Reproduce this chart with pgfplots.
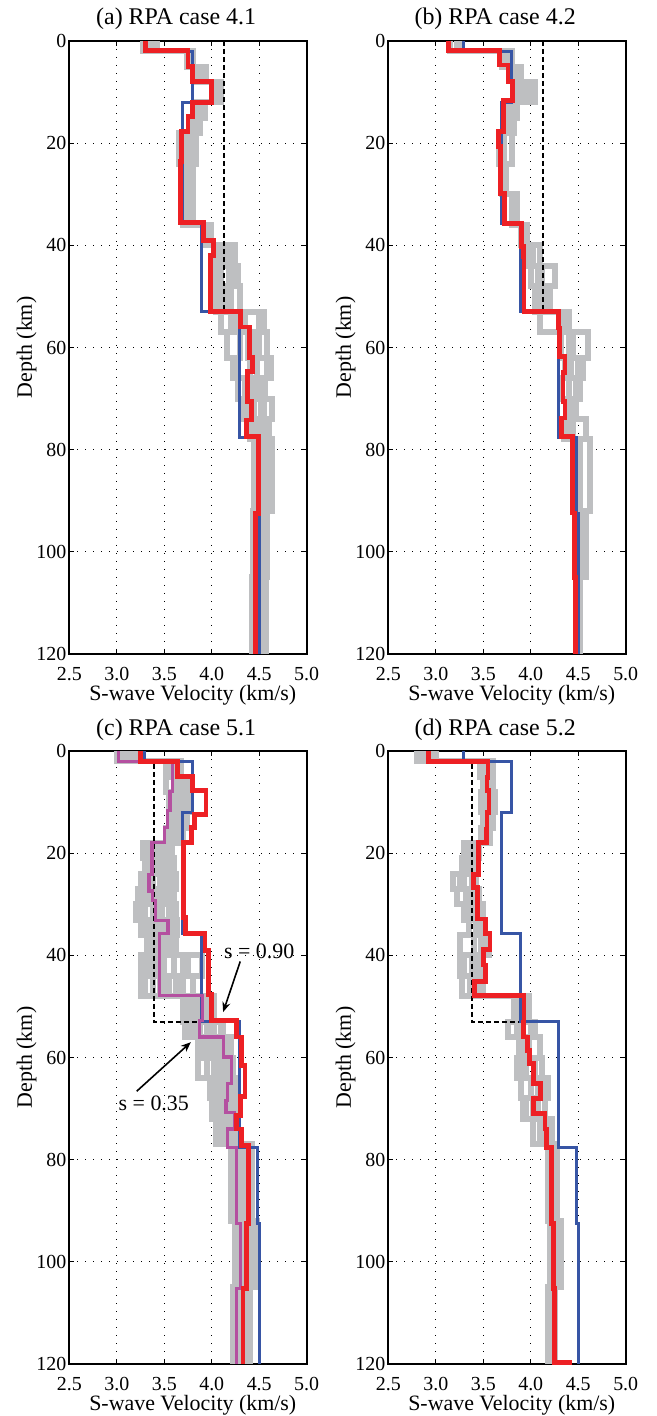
\documentclass[border=0pt]{standalone}
\usepackage{pgfplots}
\pgfplotsset{compat=1.18}
\usetikzlibrary{arrows.meta}
\usepackage{fontspec}
\setmainfont{Liberation Serif}
\definecolor{gline}{RGB}{190,191,193}
\definecolor{bline}{RGB}{55,85,165}
\definecolor{rline}{RGB}{237,32,36}
\definecolor{pline}{RGB}{180,80,160}
\pgfplotsset{
  rpa/.style={
    scale only axis, width=118.7bp, height=306.5bp, anchor=south west,
    xmin=2.5, xmax=5.0, ymin=0, ymax=120, y dir=reverse,
    xtick={2.5,3.0,3.5,4.0,4.5,5.0}, ytick={0,20,40,60,80,100,120},
    /pgf/number format/assume math mode=true,
    tick label style={font=\fontsize{10}{12}\selectfont},
    xticklabel style={yshift=-3bp, /pgf/number format/.cd, fixed, fixed zerofill, precision=1},
    yticklabel style={xshift=2bp},
    label style={font=\fontsize{11}{13}\selectfont},
    every axis title shift=0pt,
    title style={font=\fontsize{12}{14}\selectfont, at={(0.45,1)}, anchor=base, yshift=8bp},
    xlabel={S-wave Velocity (km/s)}, ylabel={Depth (km)},
    xlabel style={at={(axis description cs:0.52,-0.068)}, anchor=center},
    ylabel style={at={(axis description cs:-0.18,0.5)}, anchor=center},
    grid=major, grid style={black, line width=0.5bp, dash pattern=on 0.5bp off 3.5bp},
    tick align=inside, major tick length=2.5bp, tick style={black, line width=0.6bp},
    axis line style={line width=0.9bp},
  },
  gr/.style={draw=gline, line width=3bp, line join=miter},
  bl/.style={draw=bline, line width=1.7bp, line join=miter},
  rd/.style={draw=rline, line width=2.4bp, line join=miter},
  pu/.style={draw=pline, line width=1.6bp, line join=miter},
  da/.style={draw=black, line width=0.9bp, dash pattern=on 2.5bp off 1.5bp},
}
\begin{document}
\begin{tikzpicture}
\path[use as bounding box] (0,0) rectangle (328.5bp,708bp);
% ---------------- (a) ----------------
\begin{axis}[rpa, at={(34.65bp,381bp)}, title={(a) RPA case 4.1}]
\addplot[gr] coordinates {(3.28,0)(3.28,2)(3.74,2)(3.74,5)(3.84,5)(3.84,8)(4.08,8)(4.08,12)(3.86,12)(3.86,15)(3.80,15)(3.80,18)(3.66,18)(3.66,24)(3.70,24)(3.70,30)(3.72,30)(3.72,36)(3.93,36)(3.93,40)(4.03,40)(4.03,44)(4.02,44)(4.02,48)(4.05,48)(4.05,53)(4.10,53)(4.10,57)(4.16,57)(4.16,62)(4.28,62)(4.28,66)(4.35,66)(4.35,70)(4.33,70)(4.33,74)(4.40,74)(4.40,78)(4.45,78)(4.45,92)(4.43,92)(4.43,105)(4.42,105)(4.42,120)};
\addplot[gr] coordinates {(3.42,0)(3.42,2)(3.78,2)(3.78,5)(3.92,5)(3.92,8)(4.10,8)(4.10,12)(3.93,12)(3.93,15)(3.88,15)(3.88,18)(3.83,18)(3.83,24)(3.80,24)(3.80,30)(3.78,30)(3.78,36)(3.98,36)(3.98,40)(4.25,40)(4.25,44)(4.18,44)(4.18,48)(4.12,48)(4.12,53)(4.55,53)(4.55,57)(4.58,57)(4.58,62)(4.62,62)(4.62,66)(4.50,66)(4.50,70)(4.63,70)(4.63,74)(4.60,74)(4.60,78)(4.63,78)(4.63,92)(4.58,92)(4.58,105)(4.57,105)(4.57,120)};
\addplot[gr] coordinates {(3.35,0)(3.35,2)(3.76,2)(3.76,5)(3.88,5)(3.88,8)(4.04,8)(4.04,12)(3.90,12)(3.90,15)(3.84,15)(3.84,18)(3.72,18)(3.72,24)(3.75,24)(3.75,30)(3.74,30)(3.74,36)(3.96,36)(3.96,40)(4.12,40)(4.12,44)(4.28,44)(4.28,48)(4.20,48)(4.20,53)(4.35,53)(4.35,57)(4.45,57)(4.45,62)(4.48,62)(4.48,66)(4.56,66)(4.56,70)(4.45,70)(4.45,74)(4.52,74)(4.52,78)(4.55,78)(4.55,92)(4.50,92)(4.50,105)(4.52,105)(4.52,120)};
\addplot[gr] coordinates {(3.31,0)(3.31,2)(3.80,2)(3.80,5)(3.86,5)(3.86,8)(4.09,8)(4.09,12)(3.84,12)(3.84,15)(3.82,15)(3.82,18)(3.78,18)(3.78,24)(3.76,24)(3.76,30)(3.70,30)(3.70,36)(3.94,36)(3.94,40)(4.05,40)(4.05,44)(4.10,44)(4.10,48)(4.30,48)(4.30,53)(4.25,53)(4.25,57)(4.38,57)(4.38,62)(4.40,62)(4.40,66)(4.42,66)(4.42,70)(4.52,70)(4.52,74)(4.47,74)(4.47,78)(4.60,78)(4.60,92)(4.53,92)(4.53,105)(4.48,105)(4.48,120)};
\addplot[gr] coordinates {(3.38,0)(3.38,2)(3.75,2)(3.75,5)(3.90,5)(3.90,8)(4.02,8)(4.02,12)(3.88,12)(3.88,15)(3.78,15)(3.78,18)(3.69,18)(3.69,24)(3.73,24)(3.73,30)(3.76,30)(3.76,36)(3.95,36)(3.95,40)(4.18,40)(4.18,44)(4.06,44)(4.06,48)(4.08,48)(4.08,53)(4.50,53)(4.50,62)(4.58,62)(4.58,66)(4.46,66)(4.46,70)(4.55,70)(4.55,74)(4.40,74)(4.40,78)(4.50,78)(4.50,92)(4.47,92)(4.47,105)(4.56,105)(4.56,120)};
\addplot[gr] coordinates {(3.33,0)(3.33,2)(3.79,2)(3.79,5)(3.94,5)(3.94,8)(4.06,8)(4.06,12)(3.82,12)(3.82,15)(3.86,15)(3.86,18)(3.75,18)(3.75,24)(3.79,24)(3.79,30)(3.80,30)(3.80,36)(3.99,36)(3.99,40)(4.08,40)(4.08,44)(4.22,44)(4.22,48)(4.15,48)(4.15,53)(4.20,53)(4.20,57)(4.30,57)(4.30,62)(4.22,62)(4.22,66)(4.28,66)(4.28,70)(4.38,70)(4.38,74)(4.55,74)(4.55,78)(4.52,78)(4.52,92)(4.45,92)(4.45,120)};
\addplot[da] coordinates {(4.13,0)(4.13,53)(4.29,53)};
\addplot[bl] coordinates {(3.29,0)(3.29,2)(3.80,2)(3.80,12)(3.69,12)(3.69,35.7)(3.89,35.7)(3.89,53)(4.29,53)(4.29,77.6)(4.48,77.6)(4.48,92.5)(4.50,92.5)(4.50,120)};
\addplot[rd] coordinates {(3.30,0)(3.30,1.9)(3.75,1.9)(3.75,5)(3.80,5)(3.80,8)(4.00,8)(4.00,12)(3.80,12)(3.80,14.8)(3.75,14.8)(3.75,17.7)(3.68,17.7)(3.68,23.6)(3.67,23.6)(3.67,35.6)(3.91,35.6)(3.91,39)(4.02,39)(4.02,42)(3.99,42)(3.99,53)(4.30,53)(4.30,56)(4.40,56)(4.40,62)(4.43,62)(4.43,64.7)(4.38,64.7)(4.38,70.6)(4.42,70.6)(4.42,74.2)(4.37,74.2)(4.37,77.5)(4.49,77.5)(4.49,92.5)(4.46,92.5)(4.46,120)};
\end{axis}
% ---------------- (b) ----------------
\begin{axis}[rpa, at={(194.15bp,381bp)}, title={(b) RPA case 4.2}]
\addplot[gr] coordinates {(3.15,0)(3.15,2)(3.70,2)(3.70,5)(3.82,5)(3.82,8)(3.85,8)(3.85,12)(3.75,12)(3.75,15)(3.78,15)(3.78,18)(3.67,18)(3.67,24)(3.70,24)(3.70,30)(3.80,30)(3.80,36)(3.92,36)(3.92,40)(3.95,40)(3.95,44)(4.00,44)(4.00,48)(4.05,48)(4.05,53)(4.10,53)(4.10,57)(4.32,57)(4.32,62)(4.36,62)(4.36,66)(4.33,66)(4.33,70)(4.38,70)(4.38,74)(4.35,74)(4.35,78)(4.46,78)(4.46,92)(4.48,92)(4.48,105)(4.49,105)(4.49,120)};
\addplot[gr] coordinates {(3.28,0)(3.28,2)(3.80,2)(3.80,5)(3.90,5)(3.90,8)(4.05,8)(4.05,12)(3.85,12)(3.85,15)(3.82,15)(3.82,18)(3.80,18)(3.80,24)(3.74,24)(3.74,30)(3.86,30)(3.86,36)(3.95,36)(3.95,40)(4.10,40)(4.10,44)(4.26,44)(4.26,48)(4.15,48)(4.15,53)(4.30,53)(4.30,57)(4.60,57)(4.60,62)(4.55,62)(4.55,66)(4.52,66)(4.52,70)(4.48,70)(4.48,74)(4.58,74)(4.58,78)(4.62,78)(4.62,92)(4.58,92)(4.58,105)(4.52,105)(4.52,120)};
\addplot[gr] coordinates {(3.22,0)(3.22,2)(3.75,2)(3.75,5)(3.86,5)(3.86,8)(3.98,8)(3.98,12)(3.80,12)(3.80,15)(3.74,15)(3.74,18)(3.72,18)(3.72,30)(3.84,30)(3.84,36)(3.90,36)(3.90,40)(4.02,40)(4.02,44)(4.08,44)(4.08,48)(4.20,48)(4.20,53)(4.40,53)(4.40,57)(4.45,57)(4.45,62)(4.50,62)(4.50,66)(4.48,66)(4.48,70)(4.40,70)(4.40,74)(4.45,74)(4.45,78)(4.50,78)(4.50,92)(4.52,92)(4.52,105)(4.51,105)(4.51,120)};
\addplot[gr] coordinates {(3.25,0)(3.25,2)(3.72,2)(3.72,5)(3.84,5)(3.84,8)(3.92,8)(3.92,12)(3.78,12)(3.78,15)(3.76,15)(3.76,18)(3.70,18)(3.70,24)(3.72,24)(3.72,30)(3.82,30)(3.82,36)(3.96,36)(3.96,40)(4.00,40)(4.00,44)(4.12,44)(4.12,48)(4.10,48)(4.10,53)(4.35,53)(4.35,57)(4.40,57)(4.40,62)(4.42,62)(4.42,66)(4.40,66)(4.40,70)(4.45,70)(4.45,74)(4.38,74)(4.38,78)(4.52,78)(4.52,92)(4.55,92)(4.55,105)(4.50,105)(4.50,120)};
\addplot[da] coordinates {(4.13,0)(4.13,53)(4.29,53)};
\addplot[bl] coordinates {(3.29,0)(3.29,2)(3.80,2)(3.80,12)(3.69,12)(3.69,35.7)(3.89,35.7)(3.89,53)(4.29,53)(4.29,77.6)(4.48,77.6)(4.48,92.5)(4.50,92.5)(4.50,120)};
\addplot[rd] coordinates {(3.13,0)(3.13,1.9)(3.67,1.9)(3.67,4.7)(3.76,4.7)(3.76,8)(3.81,8)(3.81,11.7)(3.71,11.7)(3.71,17.7)(3.66,17.7)(3.66,20.7)(3.68,20.7)(3.68,29.8)(3.72,29.8)(3.72,35.7)(3.90,35.7)(3.90,40.2)(3.92,40.2)(3.92,42.2)(3.93,42.2)(3.93,53)(4.29,53)(4.29,56.2)(4.30,56.2)(4.30,61.8)(4.36,61.8)(4.36,64.9)(4.34,64.9)(4.34,70.6)(4.36,70.6)(4.36,73.8)(4.32,73.8)(4.32,77.4)(4.44,77.4)(4.44,92.4)(4.46,92.4)(4.46,105.1)(4.47,105.1)(4.47,120)};
\end{axis}
% ---------------- (c) ----------------
\begin{axis}[rpa, at={(34.65bp,26bp)}, title={(c) RPA case 5.1}]
\addplot[gr] coordinates {(3.00,0)(3.00,2)(3.55,2)(3.55,5)(3.52,5)(3.52,8)(3.55,8)(3.55,12)(3.56,12)(3.56,15)(3.52,15)(3.52,18)(3.28,18)(3.28,21)(3.30,21)(3.30,27)(3.22,27)(3.22,30)(3.20,30)(3.20,33)(3.35,33)(3.35,36)(3.32,36)(3.32,40)(3.25,40)(3.25,44)(3.30,44)(3.30,48)(3.72,48)(3.72,56)(3.90,56)(3.90,60)(3.86,60)(3.86,64)(4.00,64)(4.00,72)(4.05,72)(4.05,77)(4.20,77)(4.20,92)(4.24,92)(4.24,120)};
\addplot[gr] coordinates {(3.10,0)(3.10,2)(3.62,2)(3.62,5)(3.60,5)(3.60,8)(3.62,8)(3.62,12)(3.60,12)(3.60,15)(3.58,15)(3.58,18)(3.40,18)(3.40,21)(3.42,21)(3.42,24)(3.45,24)(3.45,27)(3.35,27)(3.35,30)(3.38,30)(3.38,33)(3.48,33)(3.48,36)(3.40,36)(3.40,44)(3.45,44)(3.45,48)(3.85,48)(3.85,53)(3.80,53)(3.80,56)(4.00,56)(4.00,60)(4.05,60)(4.05,64)(4.10,64)(4.10,68)(4.15,68)(4.15,72)(4.12,72)(4.12,77)(4.25,77)(4.25,92)(4.30,92)(4.30,105)(4.28,105)(4.28,120)};
\addplot[gr] coordinates {(3.20,0)(3.20,2)(3.68,2)(3.68,5)(3.70,5)(3.70,8)(3.72,8)(3.72,12)(3.68,12)(3.68,15)(3.62,15)(3.62,18)(3.50,18)(3.50,21)(3.52,21)(3.52,24)(3.55,24)(3.55,27)(3.50,27)(3.50,30)(3.48,30)(3.48,33)(3.55,33)(3.55,36)(3.50,36)(3.50,40)(3.60,40)(3.60,44)(3.62,44)(3.62,48)(3.95,48)(3.95,56)(4.10,56)(4.10,60)(4.15,60)(4.15,64)(4.20,64)(4.20,68)(4.18,68)(4.18,72)(4.22,72)(4.22,77)(4.32,77)(4.32,92)(4.35,92)(4.35,105)(4.30,105)(4.30,120)};
\addplot[gr] coordinates {(3.28,0)(3.28,2)(3.58,2)(3.58,5)(3.75,5)(3.75,8)(3.78,8)(3.78,12)(3.74,12)(3.74,15)(3.66,15)(3.66,18)(3.58,18)(3.58,21)(3.60,21)(3.60,24)(3.62,24)(3.62,27)(3.60,27)(3.60,30)(3.62,30)(3.62,33)(3.63,33)(3.63,36)(3.62,36)(3.62,40)(3.75,40)(3.75,44)(3.80,44)(3.80,48)(4.02,48)(4.02,53)(4.10,53)(4.10,56)(4.20,56)(4.20,60)(4.22,60)(4.22,64)(4.25,64)(4.25,68)(4.24,68)(4.24,72)(4.25,72)(4.25,77)(4.40,77)(4.40,92)(4.45,92)(4.45,105)(4.40,105)(4.40,120)};
\addplot[gr] coordinates {(3.05,0)(3.05,2)(3.52,2)(3.52,5)(3.66,5)(3.66,8)(3.58,8)(3.58,12)(3.62,12)(3.62,15)(3.55,15)(3.55,18)(3.35,18)(3.35,21)(3.45,21)(3.45,24)(3.38,24)(3.38,27)(3.40,27)(3.40,30)(3.30,30)(3.30,33)(3.40,33)(3.40,36)(3.45,36)(3.45,40)(3.50,40)(3.50,44)(3.38,44)(3.38,48)(3.78,48)(3.78,53)(3.88,53)(3.88,56)(3.95,56)(3.95,60)(4.12,60)(4.12,64)(4.05,64)(4.05,68)(4.08,68)(4.08,72)(4.15,72)(4.15,77)(4.28,77)(4.28,92)(4.38,92)(4.38,105)(4.35,105)(4.35,120)};
\addplot[gr] coordinates {(3.15,0)(3.15,2)(3.65,2)(3.65,5)(3.78,5)(3.78,8)(3.66,8)(3.66,12)(3.70,12)(3.70,15)(3.64,15)(3.64,18)(3.45,18)(3.45,21)(3.56,21)(3.56,24)(3.48,24)(3.48,27)(3.55,27)(3.55,30)(3.45,30)(3.45,33)(3.60,33)(3.60,36)(3.55,36)(3.55,40)(3.90,40)(3.90,44)(3.70,44)(3.70,48)(3.90,48)(3.90,53)(4.02,53)(4.02,56)(4.05,56)(4.05,60)(4.18,60)(4.18,64)(4.15,64)(4.15,68)(4.22,68)(4.22,72)(4.20,72)(4.20,77)(4.35,77)(4.35,92)(4.48,92)(4.48,105)(4.38,105)(4.38,120)};
\addplot[gr] coordinates {(3.25,0)(3.25,2)(3.60,2)(3.60,5)(3.72,5)(3.72,8)(3.75,8)(3.75,12)(3.64,12)(3.64,15)(3.70,15)(3.70,18)(3.55,18)(3.55,21)(3.38,21)(3.38,24)(3.60,24)(3.60,27)(3.30,27)(3.30,30)(3.55,30)(3.55,33)(3.45,33)(3.45,36)(3.60,36)(3.60,40)(3.35,40)(3.35,44)(3.55,44)(3.55,48)(4.00,48)(4.00,53)(4.12,53)(4.12,56)(4.15,56)(4.15,60)(4.08,60)(4.08,64)(4.22,64)(4.22,68)(4.12,68)(4.12,72)(4.18,72)(4.18,77)(4.42,77)(4.42,105)(4.26,105)(4.26,120)};
\addplot[gr] coordinates {(3.12,0)(3.12,2)(3.57,2)(3.57,5)(3.62,5)(3.62,8)(3.68,8)(3.68,12)(3.65,12)(3.65,15)(3.60,15)(3.60,18)(3.30,18)(3.30,21)(3.36,21)(3.36,24)(3.25,24)(3.25,27)(3.45,27)(3.45,30)(3.25,30)(3.25,33)(3.52,33)(3.52,36)(3.38,36)(3.38,40)(3.30,40)(3.30,44)(3.25,44)(3.25,48)(3.70,48)(3.70,53)(3.82,53)(3.82,56)(3.86,56)(3.86,60)(3.95,60)(3.95,64)(4.05,64)(4.05,68)(4.00,68)(4.00,72)(4.10,72)(4.10,77)(4.22,77)(4.22,92)(4.33,92)(4.33,105)(4.32,105)(4.32,120)};
\addplot[gr] coordinates {(3.22,0)(3.22,2)(3.62,2)(3.62,5)(3.68,5)(3.68,8)(3.70,8)(3.70,12)(3.58,12)(3.58,15)(3.62,15)(3.62,18)(3.42,18)(3.42,21)(3.48,21)(3.48,24)(3.52,24)(3.52,27)(3.28,27)(3.28,30)(3.58,30)(3.58,33)(3.30,33)(3.30,36)(3.48,36)(3.48,40)(3.70,40)(3.70,44)(3.50,44)(3.50,48)(3.75,48)(3.75,53)(3.98,53)(3.98,56)(3.92,56)(3.92,60)(4.02,60)(4.02,64)(4.12,64)(4.12,68)(4.06,68)(4.06,72)(4.22,72)(4.22,77)(4.30,77)(4.30,92)(4.40,92)(4.40,105)(4.37,105)(4.37,120)};
\addplot[gr] coordinates {(3.08,0)(3.08,2)(3.55,2)(3.55,5)(3.70,5)(3.70,8)(3.64,8)(3.64,12)(3.68,12)(3.68,15)(3.57,15)(3.57,18)(3.52,18)(3.52,21)(3.30,21)(3.30,24)(3.35,24)(3.35,27)(3.52,27)(3.52,30)(3.40,30)(3.40,33)(3.25,33)(3.25,36)(3.58,36)(3.58,40)(3.45,40)(3.45,44)(3.65,44)(3.65,48)(3.95,48)(3.95,53)(3.75,53)(3.75,56)(4.08,56)(4.08,60)(4.20,60)(4.20,64)(3.98,64)(3.98,68)(4.18,68)(4.18,72)(4.10,72)(4.10,77)(4.38,77)(4.38,92)(4.28,92)(4.28,105)(4.22,105)(4.22,120)};
\addplot[da] coordinates {(3.39,2.5)(3.39,53)(3.87,53)};
\addplot[bl] coordinates {(3.29,0)(3.29,2)(3.80,2)(3.80,12)(3.69,12)(3.69,35.7)(3.89,35.7)(3.89,53)(4.29,53)(4.29,77.6)(4.48,77.6)(4.48,92.5)(4.50,92.5)(4.50,120)};
\addplot[pu] coordinates {(3.02,0)(3.02,2.1)(3.59,2.1)(3.59,8)(3.56,8)(3.56,11.7)(3.53,11.7)(3.53,15)(3.50,15)(3.50,17.9)(3.37,17.9)(3.37,24.1)(3.34,24.1)(3.34,27.4)(3.38,27.4)(3.38,29.3)(3.41,29.3)(3.41,33.2)(3.54,33.2)(3.54,35.8)(3.45,35.8)(3.45,47.9)(3.90,47.9)(3.90,52.8)(3.87,52.8)(3.87,56)(4.12,56)(4.12,59.9)(4.21,59.9)(4.21,65.1)(4.17,65.1)(4.17,68.4)(4.15,68.4)(4.15,70.7)(4.24,70.7)(4.24,74)(4.17,74)(4.17,77.6)(4.26,77.6)(4.26,92.5)(4.30,92.5)(4.30,105.2)(4.26,105.2)(4.26,120)};
\addplot[rd] coordinates {(3.25,0)(3.25,2)(3.64,2)(3.64,5)(3.80,5)(3.80,7.8)(3.94,7.8)(3.94,12.4)(3.82,12.4)(3.82,15)(3.79,15)(3.79,17.9)(3.70,17.9)(3.70,32.6)(3.72,32.6)(3.72,35.8)(3.93,35.8)(3.93,39.1)(3.97,39.1)(3.97,47.6)(4.00,47.6)(4.00,52.8)(4.26,52.8)(4.26,56)(4.31,56)(4.31,61.5)(4.35,61.5)(4.35,67.7)(4.30,67.7)(4.30,71.3)(4.26,71.3)(4.26,74)(4.31,74)(4.31,77.2)(4.39,77.2)(4.39,92.5)(4.37,92.5)(4.37,105.2)(4.33,105.2)(4.33,120)};
\node[font=\fontsize{11}{13}\selectfont] at (axis cs:4.50,39.3) {s = 0.90};
\draw[-{Stealth[length=5bp,width=4bp]}, line width=0.8bp] (axis cs:4.30,41.2) -- (axis cs:4.12,51.1);
\node[font=\fontsize{11}{13}\selectfont] at (axis cs:3.39,69.0) {s = 0.35};
\draw[-{Stealth[length=5bp,width=4bp]}, line width=0.8bp] (axis cs:3.21,66.6) -- (axis cs:3.78,57.0);
\end{axis}
% ---------------- (d) ----------------
\begin{axis}[rpa, at={(194.15bp,26bp)}, title={(d) RPA case 5.2}]
\addplot[gr] coordinates {(2.80,0)(2.80,2)(3.47,2)(3.47,5)(3.50,5)(3.50,8)(3.48,8)(3.48,12)(3.50,12)(3.50,15)(3.48,15)(3.48,18)(3.30,18)(3.30,21)(3.28,21)(3.28,24)(3.18,24)(3.18,27)(3.22,27)(3.22,30)(3.34,30)(3.34,33)(3.35,33)(3.35,36)(3.25,36)(3.25,40)(3.30,40)(3.30,44)(3.28,44)(3.28,48)(3.82,48)(3.82,53)(3.76,53)(3.76,56)(3.88,56)(3.88,60)(3.86,60)(3.86,64)(3.90,64)(3.90,68)(3.92,68)(3.92,72)(4.02,72)(4.02,77)(4.18,77)(4.18,92)(4.20,92)(4.20,105)(4.18,105)(4.18,120)};
\addplot[gr] coordinates {(2.90,0)(2.90,2)(3.57,2)(3.57,5)(3.60,5)(3.60,8)(3.57,8)(3.57,12)(3.60,12)(3.60,15)(3.54,15)(3.54,18)(3.40,18)(3.40,21)(3.44,21)(3.44,24)(3.38,24)(3.38,27)(3.40,27)(3.40,30)(3.50,30)(3.50,33)(3.52,33)(3.52,36)(3.56,36)(3.56,40)(3.48,40)(3.48,44)(3.45,44)(3.45,48)(3.98,48)(3.98,53)(4.05,53)(4.05,56)(4.10,56)(4.10,60)(4.12,60)(4.12,64)(4.18,64)(4.18,68)(4.08,68)(4.08,72)(4.22,72)(4.22,77)(4.28,77)(4.28,92)(4.32,92)(4.32,105)(4.25,105)(4.25,120)};
\addplot[gr] coordinates {(3.00,0)(3.00,2)(3.52,2)(3.52,5)(3.55,5)(3.55,8)(3.60,8)(3.60,12)(3.54,12)(3.54,15)(3.57,15)(3.57,18)(3.36,18)(3.36,21)(3.38,21)(3.38,24)(3.42,24)(3.42,27)(3.32,27)(3.32,30)(3.44,30)(3.44,33)(3.48,33)(3.48,36)(3.40,36)(3.40,40)(3.42,40)(3.42,44)(3.36,44)(3.36,48)(3.90,48)(3.90,53)(3.92,53)(3.92,56)(3.98,56)(3.98,60)(4.05,60)(4.05,64)(4.00,64)(4.00,68)(4.15,68)(4.15,77)(4.24,77)(4.24,92)(4.26,92)(4.26,105)(4.22,105)(4.22,120)};
\addplot[gr] coordinates {(2.85,0)(2.85,2)(3.50,2)(3.50,5)(3.54,5)(3.54,8)(3.52,8)(3.52,12)(3.57,12)(3.57,15)(3.52,15)(3.52,18)(3.45,18)(3.45,21)(3.33,21)(3.33,24)(3.30,24)(3.30,27)(3.45,27)(3.45,30)(3.40,30)(3.40,33)(3.45,33)(3.45,36)(3.48,36)(3.48,40)(3.38,40)(3.38,44)(3.42,44)(3.42,48)(3.86,48)(3.86,53)(3.85,53)(3.85,56)(3.92,56)(3.92,60)(3.95,60)(3.95,64)(4.08,64)(4.08,68)(4.02,68)(4.02,72)(4.10,72)(4.10,77)(4.22,77)(4.22,92)(4.24,92)(4.24,105)(4.20,105)(4.20,120)};
\addplot[gr] coordinates {(2.95,0)(2.95,2)(3.60,2)(3.60,5)(3.58,5)(3.58,8)(3.62,8)(3.62,12)(3.58,12)(3.58,15)(3.55,15)(3.55,18)(3.33,18)(3.33,21)(3.35,21)(3.35,24)(3.25,24)(3.25,27)(3.36,27)(3.36,30)(3.30,30)(3.30,33)(3.42,33)(3.42,36)(3.52,36)(3.52,40)(3.25,40)(3.25,44)(3.50,44)(3.50,48)(3.85,48)(3.85,53)(4.00,53)(4.00,56)(3.95,56)(3.95,60)(3.90,60)(3.90,64)(4.12,64)(4.12,68)(3.95,68)(3.95,72)(4.20,72)(4.20,77)(4.26,77)(4.26,92)(4.28,92)(4.28,105)(4.26,105)(4.26,120)};
\addplot[da] coordinates {(3.38,2.5)(3.38,53)(3.90,53)};
\addplot[bl] coordinates {(3.29,0)(3.29,2)(3.80,2)(3.80,12)(3.69,12)(3.69,35.7)(3.89,35.7)(3.89,53)(4.29,53)(4.29,77.6)(4.48,77.6)(4.48,92.5)(4.50,92.5)(4.50,120)};
\addplot[rd] coordinates {(2.92,0)(2.92,2.1)(3.55,2.1)(3.55,5.2)(3.54,5.2)(3.54,7.8)(3.56,7.8)(3.56,12.1)(3.54,12.1)(3.54,15.3)(3.53,15.3)(3.53,17.9)(3.45,17.9)(3.45,24.1)(3.40,24.1)(3.40,26.7)(3.44,26.7)(3.44,32.9)(3.52,32.9)(3.52,35.8)(3.57,35.8)(3.57,38.8)(3.50,38.8)(3.50,41.9)(3.52,41.9)(3.52,45.1)(3.41,45.1)(3.41,47.9)(3.93,47.9)(3.93,53.1)(3.92,53.1)(3.92,56)(3.97,56)(3.97,58.6)(3.99,58.6)(3.99,61.2)(4.03,61.2)(4.03,65.1)(4.10,65.1)(4.10,68)(4.03,68)(4.03,71)(4.15,71)(4.15,74)(4.17,74)(4.17,77.6)(4.22,77.6)(4.22,92.5)(4.24,92.5)(4.24,105.2)(4.25,105.2)(4.25,119.7)(4.43,119.7)};
\end{axis}
\end{tikzpicture}
\end{document}
